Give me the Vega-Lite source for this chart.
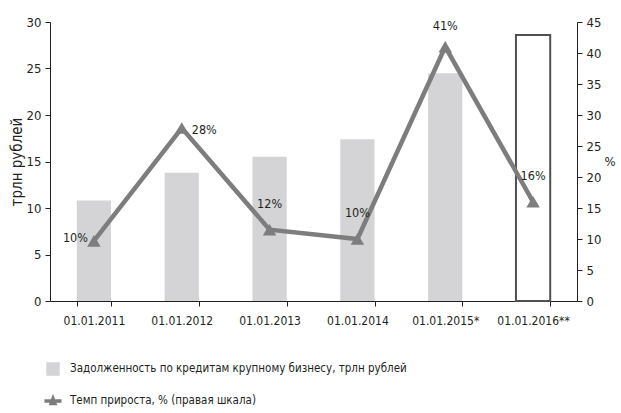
{
  "$schema": "https://vega.github.io/schema/vega-lite/v6.json",
  "width": 527,
  "height": 279,
  "autosize": {"type": "none"},
  "padding": {"left": 50, "top": 22, "right": 44, "bottom": 112},
  "background": "white",
  "config": {
    "view": {"stroke": null},
    "font": "DejaVu Sans Condensed, Liberation Sans Narrow, sans-serif",
    "axis": {
      "grid": false,
      "domainColor": "#231f20",
      "tickColor": "#231f20",
      "labelColor": "#231f20",
      "titleColor": "#231f20",
      "labelFontSize": 13,
      "titleFontSize": 15,
      "titleFontWeight": "normal",
      "tickSize": 5
    },
    "text": {"fontSize": 12.5, "color": "#231f20"}
  },
  "data": {
    "values": [
      {"date": "01.01.2011", "debt": 10.8, "rate": 9.7, "label": "10%"},
      {"date": "01.01.2012", "debt": 13.8, "rate": 27.9, "label": "28%"},
      {"date": "01.01.2013", "debt": 15.5, "rate": 11.5, "label": "12%"},
      {"date": "01.01.2014", "debt": 17.4, "rate": 10.0, "label": "10%"},
      {"date": "01.01.2015*", "debt": 24.5, "rate": 41.0, "label": "41%"},
      {"date": "01.01.2016**", "debt": 28.6, "rate": 16.0, "label": "16%"}
    ]
  },
  "encoding": {
    "x": {
      "field": "date",
      "type": "nominal",
      "sort": null,
      "scale": {"paddingInner": 0.61, "paddingOuter": 0.305},
      "axis": {"title": null, "labelAngle": 0, "tickBand": "extent", "labelFontSize": 12, "labelPadding": 9}
    }
  },
  "layer": [
    {
      "layer": [
        {
          "transform": [{"filter": "datum.date !== '01.01.2016**'"}],
          "mark": {"type": "bar"},
          "encoding": {
            "y": {
              "field": "debt",
              "type": "quantitative",
              "scale": {"domain": [0, 30]},
              "axis": {"orient": "left", "title": "трлн рублей", "values": [0, 5, 10, 15, 20, 25, 30], "labelPadding": 4, "titlePadding": 2}
            },
            "color": {
              "datum": "Задолженность по кредитам крупному бизнесу, трлн рублей",
              "type": "nominal",
              "scale": {
                "domain": ["Задолженность по кредитам крупному бизнесу, трлн рублей", "Темп прироста, % (правая шкала)"],
                "range": ["#d4d4d6", "#7d7d7d"]
              },
              "legend": {
                "orient": "none",
                "legendX": -4,
                "legendY": 340,
                "direction": "vertical",
                "title": null,
                "symbolSize": 144,
                "labelFontSize": 11.5,
                "labelColor": "#231f20",
                "labelLimit": 0,
                "labelOffset": 10,
                "rowPadding": 14,
                "encode": {
                  "symbols": {
                    "update": {
                      "shape": {"signal": "datum.value === 'Темп прироста, % (правая шкала)' ? 'M-1.3,-0.15H1.3V0.15H-1.3Z M0,-0.85L0.55,0.6H-0.55Z' : 'square'"},
                      "fill": {"signal": "datum.value === 'Темп прироста, % (правая шкала)' ? '#7d7d7d' : '#d4d4d6'"},
                      "stroke": {"value": "transparent"},
                      "opacity": {"value": 1},
                      "fillOpacity": {"value": 1}
                    }
                  }
                }
              }
            }
          }
        },
        {
          "transform": [{"filter": "datum.date === '01.01.2016**'"}],
          "mark": {"type": "bar", "fill": "white", "stroke": "#505050", "strokeWidth": 2},
          "encoding": {"y": {"field": "debt", "type": "quantitative"}}
        }
      ]
    },
    {
      "encoding": {
        "y": {
          "field": "rate",
          "type": "quantitative",
          "scale": {"domain": [0, 45]},
          "axis": {"orient": "right", "title": "%", "titleAngle": 0, "titleAlign": "left", "titleBaseline": "middle", "titlePadding": 3, "titleFontSize": 13, "values": [0, 5, 10, 15, 20, 25, 30, 35, 40, 45], "labelPadding": 4}
        }
      },
      "layer": [
        {
          "mark": {"type": "line", "strokeWidth": 4.5},
          "encoding": {"color": {"datum": "Темп прироста, % (правая шкала)", "type": "nominal"}}
        },
        {
          "mark": {"type": "point", "filled": true, "shape": "triangle-up", "size": 180, "opacity": 1},
          "encoding": {"color": {"datum": "Темп прироста, % (правая шкала)", "type": "nominal"}}
        },
        {
          "transform": [{"filter": "datum.date === '01.01.2011'"}],
          "mark": {"type": "text", "align": "right", "baseline": "middle", "dx": -6, "dy": -3},
          "encoding": {"text": {"field": "label"}}
        },
        {
          "transform": [{"filter": "datum.date === '01.01.2012'"}],
          "mark": {"type": "text", "align": "left", "baseline": "middle", "dx": 10, "dy": 2},
          "encoding": {"text": {"field": "label"}}
        },
        {
          "transform": [{"filter": "datum.date === '01.01.2013' || datum.date === '01.01.2014' || datum.date === '01.01.2016**'"}],
          "mark": {"type": "text", "align": "center", "baseline": "middle", "dy": -26},
          "encoding": {"text": {"field": "label"}}
        },
        {
          "transform": [{"filter": "datum.date === '01.01.2015*'"}],
          "mark": {"type": "text", "align": "center", "baseline": "middle", "dy": -21},
          "encoding": {"text": {"field": "label"}}
        }
      ]
    }
  ],
  "resolve": {"scale": {"y": "independent"}}
}
